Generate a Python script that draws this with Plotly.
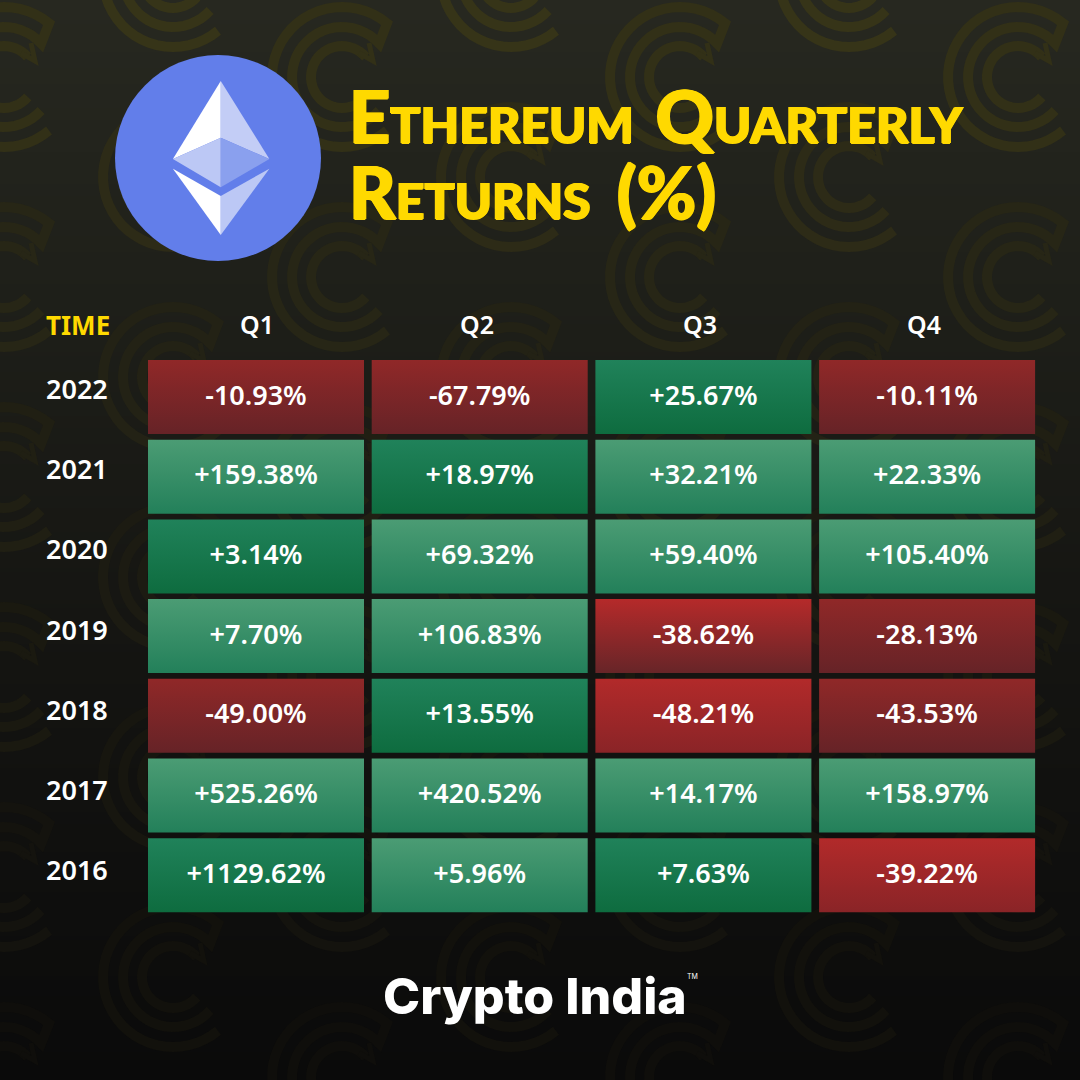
import numpy as np
import plotly.graph_objects as go

# ---------- data ----------
quarters = ["Q1", "Q2", "Q3", "Q4"]
years = [2022, 2021, 2020, 2019, 2018, 2017, 2016]
returns_2022 = [-10.93, -67.79, 25.67, -10.11]
returns_2021 = [159.38, 18.97, 32.21, 22.33]
returns_2020 = [3.14, 69.32, 59.40, 105.40]
returns_2019 = [7.70, 106.83, -38.62, -28.13]
returns_2018 = [-49.00, 13.55, -48.21, -43.53]
returns_2017 = [525.26, 420.52, 14.17, 158.97]
returns_2016 = [1129.62, 5.96, 7.63, -39.22]
returns = [returns_2022, returns_2021, returns_2020, returns_2019,
           returns_2018, returns_2017, returns_2016]

# ---------- styles ----------
W = H = 1080
GRADS = {
    "dk": ("#20825a", "#0e6c3f"),
    "lt": ("#4b9c74", "#23805a"),
    "rm": ("#902828", "#662327"),
    "rb": ("#b52a2a", "#672528"),
    "rc": ("#b22a2a", "#8a2427"),
}
shade = [
    ["rm", "rm", "dk", "rm"],
    ["lt", "dk", "lt", "lt"],
    ["dk", "lt", "lt", "lt"],
    ["lt", "lt", "rb", "rm"],
    ["rm", "dk", "rc", "rm"],
    ["lt", "lt", "lt", "lt"],
    ["dk", "lt", "dk", "rc"],
]
X0, XP, CW = 256.0, 223.7, 216.0
Y0, YP, CH = 397.0, 79.7, 74.0
Q_LABEL_PX = [257, 477, 700, 924]
YELLOW = "#FFD900"
CELL_FONT = "Noto Sans"


def px(x):
    return x / W


def py(y):
    return 1 - y / H


def lerp_hex(stops, t):
    for (t0, c0), (t1, c1) in zip(stops, stops[1:]):
        if t <= t1:
            f = (t - t0) / (t1 - t0)
            return "rgb(%d,%d,%d)" % tuple(round(a + (b - a) * f) for a, b in zip(c0, c1))
    return "rgb(%d,%d,%d)" % stops[-1][1]


BG = [(0, (39, 40, 32)), (300, (30, 31, 25)), (620, (21, 21, 18)), (1080, (10, 10, 10))]
WM = [(0, (54, 52, 24)), (300, (38, 37, 22)), (620, (27, 26, 17)), (1080, (15, 14, 11))]

shapes = []
# background gradient: each strip runs to the bottom of the page
for y in range(0, H, 4):
    shapes.append(dict(type="rect", xref="paper", yref="paper", x0=0, x1=1, y0=0, y1=py(y),
                       fillcolor=lerp_hex(BG, y), line_width=0, layer="below"))


def arc(cx, cy, r, a0, a1, n=40):
    a = np.radians(np.linspace(a0, a1, n))
    return [(cx + r * np.cos(t), cy - r * np.sin(t)) for t in a]


def to_path(points):
    return "M" + "L".join(f"{px(x):.4f},{py(y):.4f}" for x, y in points)


# watermark logo tiles
for k in range(7):
    cx = 4 + 169 * k
    off = 77 if k % 2 == 0 else -23
    for j in range(7):
        cy = off + 200 * j
        col = lerp_hex(WM, min(max(cy, 0), 1080))
        outer = arc(cx, cy, 70, 310, 50) + arc(cx, cy, 50, 42, 318)
        inner = arc(cx, cy, 31, 320, 40)
        head = [(cx + 17, cy - 24), (cx + 31, cy - 16), (cx + 27, cy - 34)]
        for pts in (outer, inner, head):
            shapes.append(dict(type="path", xref="paper", yref="paper", path=to_path(pts),
                               line=dict(color=col, width=10 if pts is not head else 5),
                               layer="below"))

# Ethereum logo
cxl, cyl, rl = 218, 158, 103
shapes.append(dict(type="circle", xref="paper", yref="paper",
                   x0=px(cxl - rl), x1=px(cxl + rl), y0=py(cyl + rl), y1=py(cyl - rl),
                   fillcolor="#627EEA", line_width=0, layer="below"))
facets = [
    ([(220.7, 81), (172.9, 159), (220.7, 137.7)], "#FFFFFF"),
    ([(220.7, 81), (269.3, 159), (220.7, 137.7)], "#C3CDF6"),
    ([(172.9, 159), (220.7, 137.7), (220.7, 187.3)], "#BCC8F5"),
    ([(269.3, 159), (220.7, 137.7), (220.7, 187.3)], "#8AA0EE"),
    ([(172.9, 168.7), (220.7, 196), (220.7, 235)], "#FFFFFF"),
    ([(269.3, 168.7), (220.7, 196), (220.7, 235)], "#BCC8F5"),
]
for pts, c in facets:
    shapes.append(dict(type="path", xref="paper", yref="paper", path=to_path(pts) + "Z",
                       fillcolor=c, line_width=0, layer="below"))

# ---------- axes helpers ----------
xr = [(0 - X0) / XP, (W - X0) / XP]
yr = [years[0] - (H - Y0) / YP, years[0] + Y0 / YP]
hw = CW / XP / 2
hh = CH / YP / 2

fig = go.Figure()
for r, yr_val in enumerate(years):
    for c, q in enumerate(quarters):
        top, bot = GRADS[shade[r][c]]
        fig.add_trace(go.Scatter(
            x=[c - hw, c + hw, c + hw, c - hw, c - hw],
            y=[yr_val - hh, yr_val - hh, yr_val + hh, yr_val + hh, yr_val - hh],
            mode="lines", line=dict(width=0), fill="toself",
            fillgradient=dict(type="vertical", colorscale=[[0, bot], [1, top]]),
            hoverinfo="skip", showlegend=False))

fx, fy, ft = [], [], []
for r, yr_val in enumerate(years):
    for c in range(len(quarters)):
        v = returns[r][c]
        fx.append(c)
        fy.append(yr_val - 0.01)
        ft.append(f"{v:+.2f}%")
fig.add_trace(go.Scatter(x=fx, y=fy, text=ft, mode="text", textposition="middle center",
                         textfont=dict(family=CELL_FONT, size=27, color="white", weight=600),
                         hoverinfo="skip", showlegend=False))

annotations = [dict(x=px(Q_LABEL_PX[i]), y=py(324.5), xref="paper", yref="paper", text=q,
                    showarrow=False,
                    font=dict(family=CELL_FONT, size=25, color="white", weight=600),
                    xanchor="center", yanchor="middle")
               for i, q in enumerate(quarters)]
for i, yv in enumerate(years):
    annotations.append(dict(x=px(44), y=py(388.5 + 80.2 * i), xref="paper", yref="paper", text=str(yv),
                            showarrow=False, xanchor="left", yanchor="middle",
                            font=dict(family=CELL_FONT, size=27, color="white", weight=600)))
annotations.append(dict(x=px(44), y=py(325), xref="paper", yref="paper", text="TIME",
                        showarrow=False, xanchor="left", yanchor="middle",
                        font=dict(family=CELL_FONT, size=26, color=YELLOW, weight=700)))
for line, yc in (("Ethereum \u200aQuarterly", 115), ("Returns \u2009(%)", 191)):
    annotations.append(dict(x=px(347), y=py(yc), xref="paper", yref="paper", text=line,
                            showarrow=False, xanchor="left", yanchor="middle",
                            font=dict(family="Lato", size=72, color=YELLOW, weight=900,
                                      variant="small-caps",
                                      shadow="1px 0 0 #FFD900, -1px 0 0 #FFD900, 0 1px 0 #FFD900")))
annotations.append(dict(x=px(535), y=py(996), xref="paper", yref="paper", text="Crypto India",
                        showarrow=False, xanchor="center", yanchor="middle",
                        font=dict(family="Inter", size=50, color="white", weight=800)))
annotations.append(dict(x=px(692), y=py(976), xref="paper", yref="paper", text="TM",
                        showarrow=False, xanchor="center", yanchor="middle",
                        font=dict(family="Inter", size=7, color="white")))

fig.update_layout(
    width=W, height=H, margin=dict(l=0, r=0, t=0, b=0, pad=0),
    paper_bgcolor="#141412", plot_bgcolor="rgba(0,0,0,0)",
    xaxis=dict(range=xr, visible=False, fixedrange=True),
    yaxis=dict(range=yr, visible=False, fixedrange=True),
    shapes=shapes, annotations=annotations, showlegend=False,
)
fig.write_html("out.html", config=dict(displayModeBar=False),
               post_script="document.body.style.margin='0';document.documentElement.style.overflow='hidden';")
